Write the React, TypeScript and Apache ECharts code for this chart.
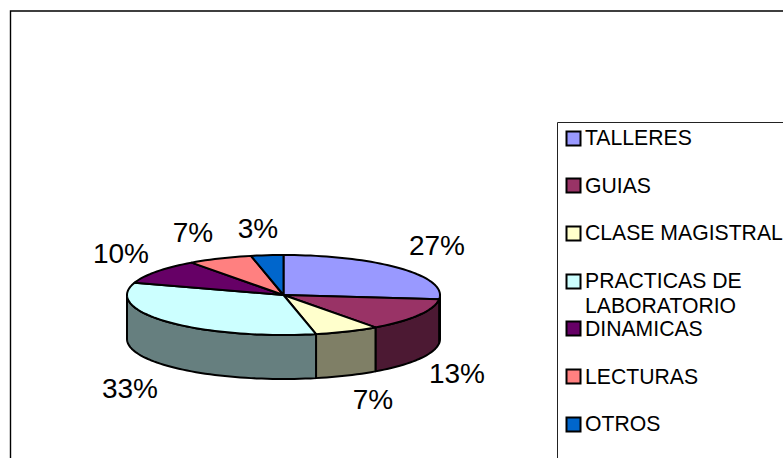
import React, { useEffect, useRef } from "react";
import * as echarts from "echarts";

const categories = ["TALLERES", "GUIAS", "CLASE MAGISTRAL", "PRACTICAS DE\nLABORATORIO", "DINAMICAS", "LECTURAS", "OTROS"];
const seriesValues = [8, 4, 2, 10, 3, 2, 1];
const topColors = ["#9999FF", "#993366", "#FFFFCC", "#CCFFFF", "#660066", "#FF8080", "#0066CC"];
const wallColors = ["#4C4C7F", "#4C1933", "#7F7F66", "#667F7F", "#330033", "#7F4040", "#003366"];

// Layout constants
const CX = 283.5, CY = 295, RX = 156.5, RY = 40, DEPTH = 44;
const LABEL_CENTERS = [[437, 245], [457, 373], [373, 399], [130, 388], [121, 253], [193, 232], [258, 228]];
const LEGEND = { boxX: 557.5, boxY: 122.5, swatchX: 566.5, swatchSize: 14, textX: 585, firstRow: 137.5, rowPitch: 47.7, lineHeight: 25 };
const LINE = "#000000";
const FONT_FAMILY = "'Liberation Sans', Arial, sans-serif";

const total = seriesValues.reduce((a, b) => a + b, 0);

function pt(deg: number, dy = 0): number[] {
  const r = (deg * Math.PI) / 180;
  return [CX + Math.sin(r) * RX, CY - Math.cos(r) * RY + dy];
}
function arc(a0: number, a1: number, dy = 0): number[][] {
  const out: number[][] = [];
  const n = Math.max(2, Math.ceil((a1 - a0) / 2));
  for (let i = 0; i <= n; i++) out.push(pt(a0 + ((a1 - a0) * i) / n, dy));
  return out;
}

function renderSlice(params: any, api: any) {
  const i = params.dataIndex;
  const before = seriesValues.slice(0, i).reduce((a, b) => a + b, 0);
  const a0 = (before / total) * 360;
  const a1 = a0 + (api.value(0) / total) * 360;
  const children: any[] = [];
  const s = Math.max(a0, 90), e = Math.min(a1, 270);
  if (e > s) {
    children.push({
      type: "polygon",
      shape: { points: [...arc(s, e), ...arc(s, e, DEPTH).reverse()] },
      style: { fill: wallColors[i], stroke: LINE, lineWidth: 2, lineJoin: "round" },
    });
  }
  children.push({
    type: "polygon",
    shape: { points: [[CX, CY], ...arc(a0, a1)] },
    style: { fill: topColors[i], stroke: LINE, lineWidth: 2, lineJoin: "round" },
  });
  children.push({
    type: "text",
    style: {
      text: Math.round((api.value(0) / total) * 100) + "%",
      x: LABEL_CENTERS[i][0],
      y: LABEL_CENTERS[i][1],
      align: "center",
      verticalAlign: "middle",
      fill: "#000",
      font: `28px ${FONT_FAMILY}`,
    },
  });
  return { type: "group", children };
}

function renderLegendRow(params: any) {
  const i = params.dataIndex;
  const y = LEGEND.firstRow + i * LEGEND.rowPitch;
  const children: any[] = [
    {
      type: "rect",
      shape: { x: LEGEND.swatchX, y: Math.round(y - LEGEND.swatchSize / 2) + 0.5, width: LEGEND.swatchSize, height: LEGEND.swatchSize },
      style: { fill: topColors[i], stroke: LINE, lineWidth: 2 },
    },
    {
      type: "text",
      style: {
        text: categories[i],
        x: LEGEND.textX,
        y: y - LEGEND.lineHeight / 2,
        align: "left",
        verticalAlign: "top",
        lineHeight: LEGEND.lineHeight,
        fill: "#000",
        font: `21.2px ${FONT_FAMILY}`,
      },
    },
  ];
  return { type: "group", children };
}

export default function App() {
  const ref = useRef<HTMLDivElement>(null);
  useEffect(() => {
    const chart = echarts.init(ref.current!, null, { renderer: "svg" });
    const data = categories.map((c, i) => ({ name: c, value: seriesValues[i] }));
    chart.setOption({
      animation: false,
      backgroundColor: "#ffffff",
      graphic: [
        { type: "rect", z: 0, shape: { x: 10.5, y: 11, width: 900, height: 900 }, style: { fill: "#fff", stroke: "#000", lineWidth: 1.4 } },
        { type: "rect", z: 1, shape: { x: LEGEND.boxX, y: LEGEND.boxY, width: 500, height: 600 }, style: { fill: "#fff", stroke: "#222", lineWidth: 1 } },
      ],
      series: [
        { type: "custom", name: "pie", coordinateSystem: "none", renderItem: renderSlice, data, z: 5, silent: true },
        { type: "custom", name: "legend", coordinateSystem: "none", renderItem: renderLegendRow, data, z: 5, silent: true },
      ],
    });
    return () => chart.dispose();
  }, []);
  return <div ref={ref} style={{ position: "absolute", left: 0, top: 0, width: 783, height: 458, overflow: "hidden" }} />;
}
